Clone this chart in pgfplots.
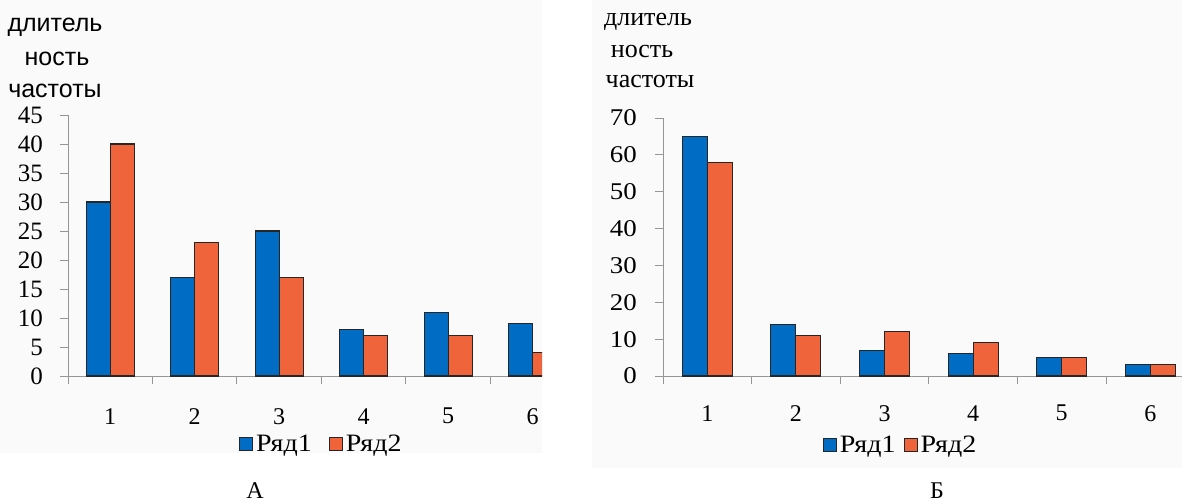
\documentclass[border=0pt]{standalone}
\usepackage{fontspec}
\usepackage{pgfplots}
\pgfplotsset{compat=1.18}
\setmainfont{Liberation Serif}
\newfontfamily\sansA{Liberation Sans}
\newfontfamily\serifS[FakeStretch=1.12]{Liberation Serif}

\definecolor{rowA}{RGB}{0,108,196}
\definecolor{rowB}{RGB}{240,100,60}
\definecolor{axgray}{RGB}{150,150,150}
\definecolor{panel}{RGB}{250,250,250}

\pgfplotsset{
  barchart/.style={
    scale only axis,
    axis lines=left,
    axis line style={-, axgray, line width=1bp},
    ybar=0pt,
    tick align=outside,
    major tick length=8bp, minor tick length=8bp,
    tick style={axgray, line width=1bp},
    major x tick style={draw=none},
    xtick={1,...,6},
    minor xtick={0.5,1.5,...,6.5},
    ymin=0,
    /pgf/number format/assume math mode=true,
    legend columns=2,
    legend image code/.code={%
      \draw[#1, draw=black!85, line width=1.1bp] (0bp,-6.5bp) rectangle (13bp,6.5bp);},
    legend style={draw=none, fill=none, inner sep=0pt, outer sep=0pt,
      anchor=west, nodes={inner sep=3bp},
      font=\serifS\fontsize{25bp}{28bp}\selectfont},
  },
  s1/.style={fill=rowA, draw=black!85, line width=1.1bp},
  s2/.style={fill=rowB, draw=black!85, line width=1.1bp},
}

\begin{document}
\begin{tikzpicture}
\useasboundingbox (0,0) rectangle (1182bp,-502bp);
\fill[panel] (0,0) rectangle (542bp,-453bp);
\fill[panel] (592bp,0) rectangle (1182bp,-468bp);

% Panel A
\begin{axis}[barchart,
  at={(68bp,-376bp)}, anchor=south west,
  width=474bp, height=261bp,
  xmin=0.5, xmax=6.11,
  ymax=45, ytick={0,5,...,45},
  bar width=24bp,
  yticklabel style={font=\fontsize{25bp}{28bp}\selectfont, inner sep=0pt, anchor=east, xshift=-17bp},
  xticklabel style={font=\fontsize{24bp}{26bp}\selectfont, inner sep=0pt, anchor=north, yshift=-24bp},
  legend style={at={(0.361,-0.26)}, /tikz/every even column/.append style={column sep=14bp}},
]
\addplot[s1] coordinates {(1,30) (2,17) (3,25) (4,8) (5,11) (6,9)};
\addplot[s2] coordinates {(1,40) (2,23) (3,17) (4,7) (5,7) (6,4)};
\legend{Ряд1, Ряд2}
\end{axis}

% Panel Б
\begin{axis}[barchart,
  at={(663bp,-376bp)}, anchor=south west,
  width=519bp, height=258bp,
  xmin=0.5, xmax=6.358,
  ymax=70, ytick={0,10,...,70},
  bar width=25bp,
  yticklabel style={font=\serifS\fontsize{24bp}{26bp}\selectfont, inner sep=0pt, anchor=east, xshift=-18bp},
  xticklabel style={font=\fontsize{24bp}{26bp}\selectfont, inner sep=0pt, anchor=north, yshift=-21bp},
  legend style={at={(0.308,-0.267)}, /tikz/every even column/.append style={column sep=5bp}},
]
\addplot[s1] coordinates {(1,65) (2,14) (3,7) (4,6) (5,5) (6,3)};
\addplot[s2] coordinates {(1,58) (2,11) (3,12) (4,9) (5,5) (6,3)};
\legend{Ряд1, Ряд2}
\end{axis}

% axis titles
\begin{scope}[every node/.style={anchor=base, inner sep=0pt}]
\node[font=\sansA\fontsize{25bp}{30bp}\selectfont] at (55bp,-31bp) {длитель};
\node[font=\sansA\fontsize{25bp}{30bp}\selectfont] at (57bp,-65bp) {ность};
\node[font=\sansA\fontsize{25bp}{30bp}\selectfont] at (55bp,-97bp) {частоты};
\node[font=\fontsize{26bp}{30bp}\selectfont] at (648bp,-25bp) {длитель};
\node[font=\fontsize{26bp}{30bp}\selectfont] at (642bp,-57bp) {ность};
\node[font=\fontsize{26bp}{30bp}\selectfont] at (650bp,-87bp) {частоты};
\node[font=\fontsize{24bp}{26bp}\selectfont] at (255bp,-498bp) {А};
\node[font=\fontsize{24bp}{26bp}\selectfont] at (937bp,-498bp) {Б};
\end{scope}
\end{tikzpicture}
\end{document}
